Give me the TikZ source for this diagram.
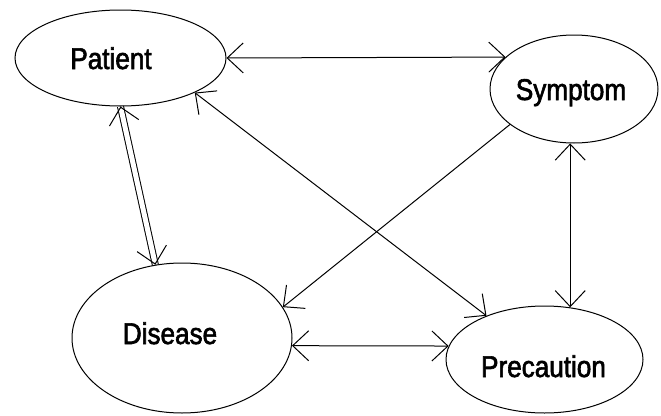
\documentclass[tikz,border=0pt]{standalone}
\usepackage{fontspec}
\setmainfont{Liberation Sans}[FakeStretch=0.87,FakeBold=2]
\usetikzlibrary{shapes.geometric,arrows.meta,calc,backgrounds}
\begin{document}
\begin{tikzpicture}[x=1pt,y=-1pt,
  >={Straight Barb[length=16pt,width=30pt]},
  ent/.style={ellipse, draw, line width=1pt, inner sep=0pt},
  txt/.style={font=\fontsize{30}{30}\selectfont, anchor=base, inner sep=0pt},
  conn/.style={line width=1pt},
]
\useasboundingbox (0,0) rectangle (661,415);
\node[ent, minimum width=211pt, minimum height=96pt] (pat) at (120.5,58) {};
\node[ent, minimum width=168pt, minimum height=108pt] (sym) at (574,89) {};
\node[ent, minimum width=220pt, minimum height=150pt] (dis) at (182,338) {};
\node[ent, minimum width=197pt, minimum height=107pt] (pre) at (544.5,359.5) {};
\node[txt] (patt) at (111,69) {Patient};
\node[txt] (symt) at (571,100) {Symptom};
\node[txt] (dist) at (170,344) {Disease};
\node[txt] (pret) at (543.5,377) {Precaution};
\begin{scope}[on background layer]
\draw[conn, double, double distance=5pt] (pat.south) -- (dis.110);
\end{scope}
\draw[conn,->] ($(pat.south)!2pt!(dis.110)$) -- (pat.south);
\draw[conn,->] ($(dis.110)!2pt!(pat.south)$) -- (dis.110);
\draw[conn,<->] (pat.east) -- (sym.155);
\draw[conn,<->] (pat.-25) -- (pre.143);
\draw[conn,->] (sym.209) -- (dis.17);
\draw[conn,<->] (dis.-4) -- (pre.172);
\draw[conn,<->] (sym.266) -- (sym.266 |- pre.64);
\end{tikzpicture}
\end{document}
